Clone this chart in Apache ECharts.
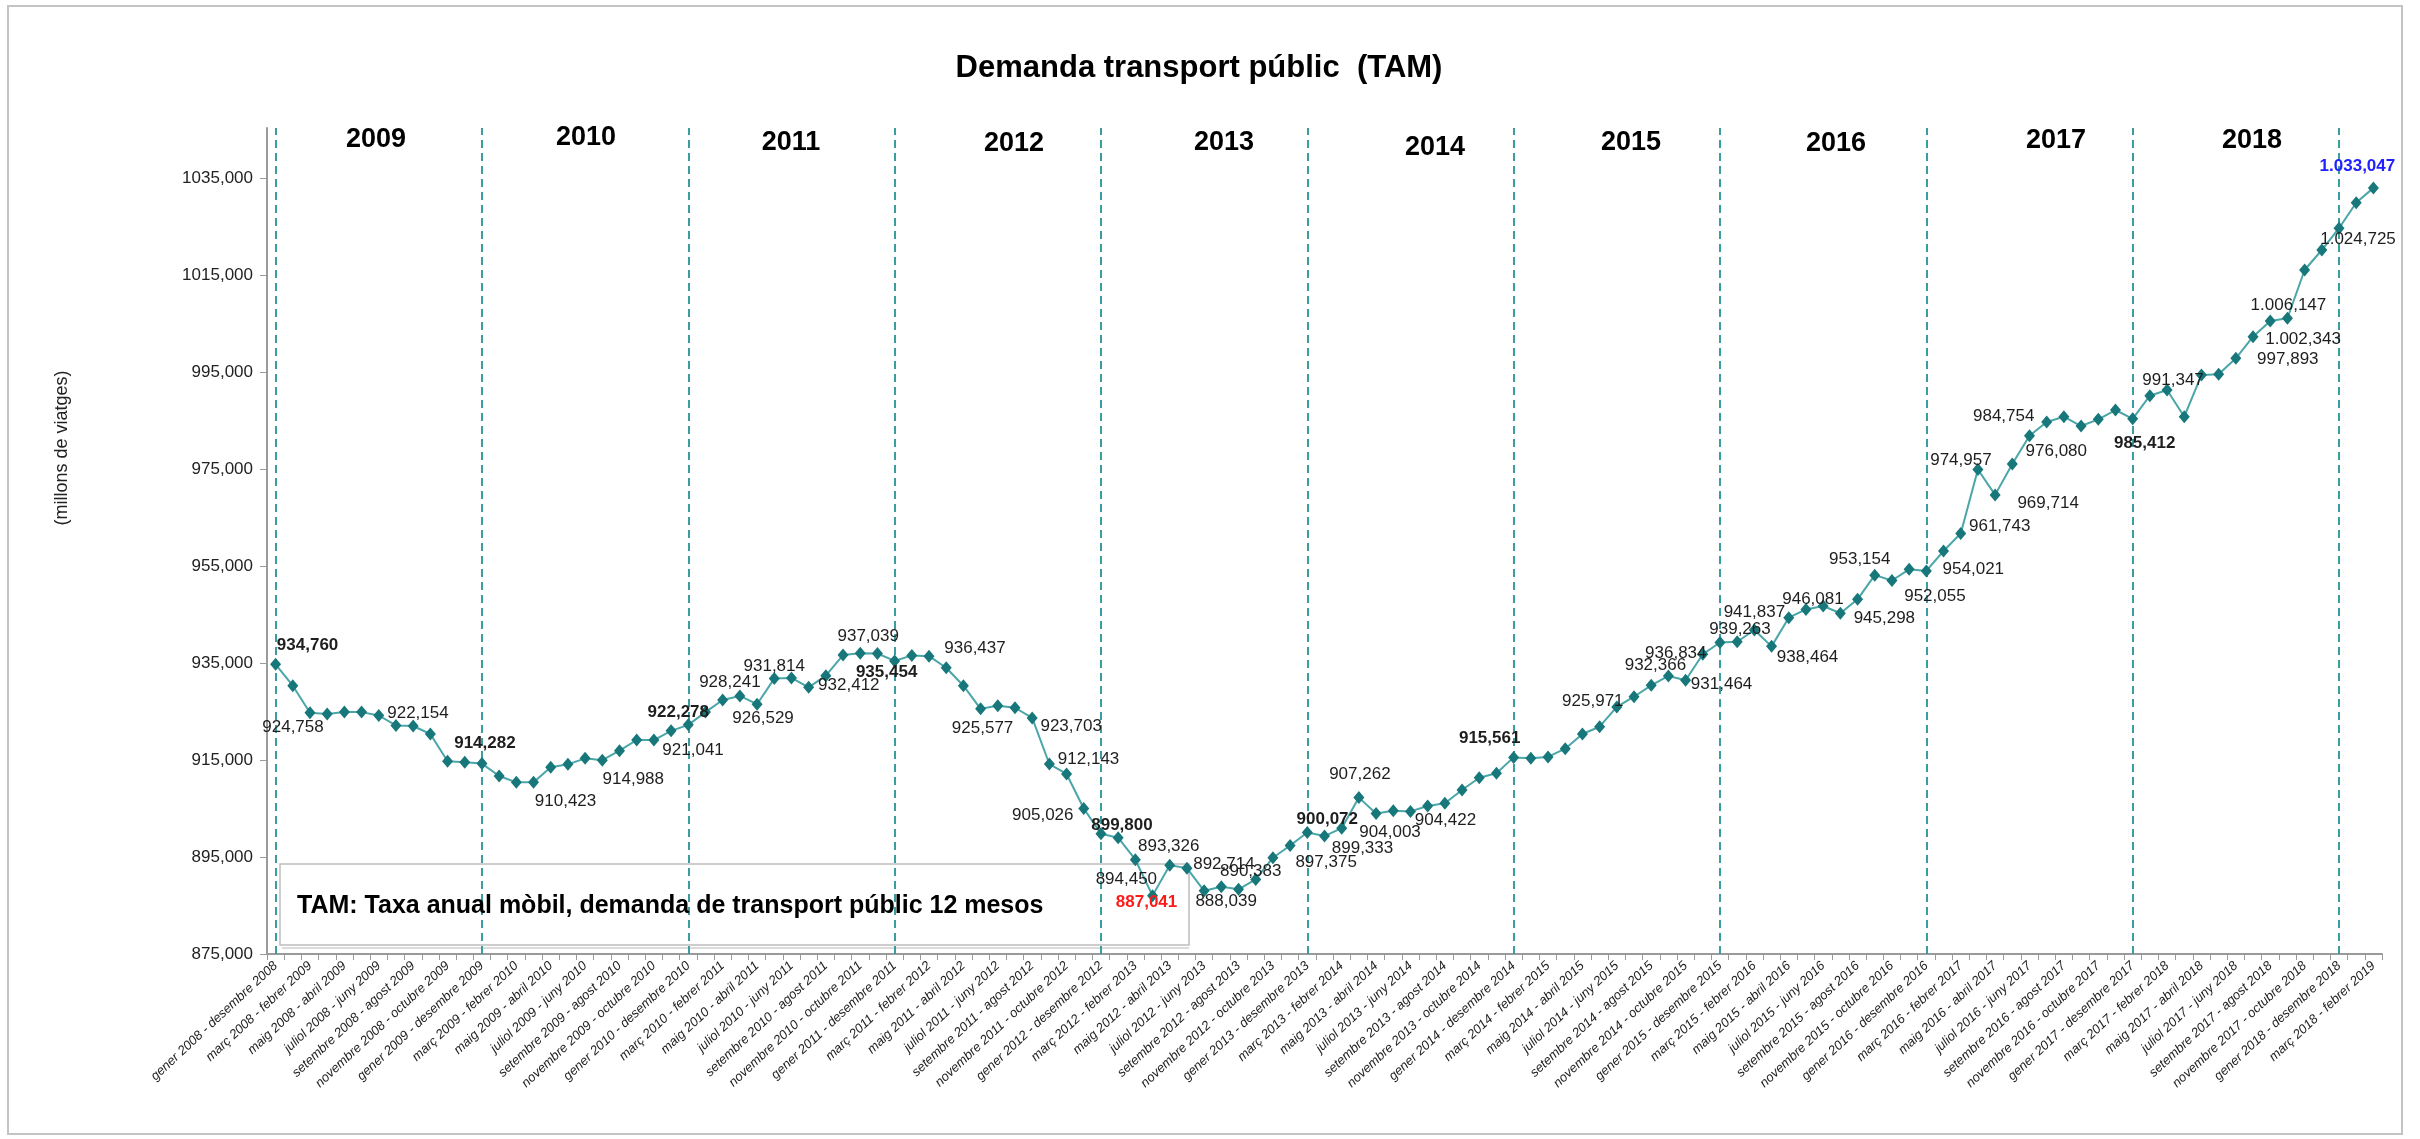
<!DOCTYPE html>
<html>
<head>
<meta charset="utf-8">
<title>Demanda transport públic (TAM)</title>
<script src="https://cdn.jsdelivr.net/npm/echarts@6/dist/echarts.min.js"></script>
<style>
  html, body { margin: 0; padding: 0; background: #fff; }
  #chart { width: 2420px; height: 1139px; }
</style>
</head>
<body>
<div id="chart"></div>
<script>
// mesos per construir les etiquetes "gener 2008 - desembre 2008", ...
var months = ['gener', 'febrer', 'març', 'abril', 'maig', 'juny', 'juliol', 'agost', 'setembre', 'octubre', 'novembre', 'desembre'];
var firstYear = 2008;

// TAM (viatges), de "gener 2008 - desembre 2008" fins "març 2018 - febrer 2019"
var tam = [
  934760, 930345, 924758, 924500, 924900, 924900, 924200, 922154, 922031, 920381, 914749, 914543,
  914282, 911716, 910417, 910423, 913511, 914130, 915368, 914988, 916936, 919143, 919143, 921041,
  922278, 924900, 927395, 928241, 926529, 931814, 931950, 930015, 932412, 936679, 937039, 937000,
  935454, 936600, 936437, 934059, 930345, 925577, 926219, 925800, 923703, 914192, 912143, 905026,
  899800, 899000, 894450, 887041, 893326, 892714, 888039, 888879, 888342, 890383, 894862, 897375,
  900072, 899333, 900950, 907262, 904003, 904558, 904422, 905527, 906084, 908828, 911366, 912273,
  915561, 915368, 915650, 917348, 920381, 921887, 925971, 928076, 930428, 932366, 931464, 936834,
  939263, 939422, 941837, 938464, 944374, 946081, 946787, 945298, 948170, 953154, 952055, 954359,
  954021, 958134, 961743, 974957, 969714, 976080, 981920, 984754, 985840, 983921, 985304, 987222,
  985412, 990172, 991347, 985840, 994443, 994587, 997893, 1002343, 1005583, 1006147, 1016104, 1020230,
  1024725, 1029988, 1033047
];

// punts de desembre (separadors d'any) i títols d'any
var yearEndIdx = [0, 12, 24, 36, 48, 60, 72, 84, 96, 108, 120];
var yearNames = ['2009', '2010', '2011', '2012', '2013', '2014', '2015', '2016', '2017', '2018'];

// eix Y
var yMin = 875000, yMax = 1045400, yStep = 20000;

// punts amb etiqueta de valor
var labelled = [0, 2, 7, 12, 15, 19, 23, 24, 27, 28, 29, 32, 34, 36, 38, 41, 44, 46, 47, 48, 50, 51, 52, 53, 54, 57,
  59, 60, 61, 63, 64, 66, 72, 78, 81, 82, 83, 84, 86, 87, 89, 91, 93, 94, 96, 98, 99, 100, 101, 103, 108, 110,
  114, 115, 117, 120, 122];
var boldIdx = [0, 12, 24, 36, 48, 60, 72, 108];
var minIdx = 51, lastIdx = 122;

// desplaçament de cada etiqueta respecte al punt (px)
var labelOffset = {
  0: [32, -19], 2: [-17, 15], 7: [22, -12], 12: [3, -20], 15: [32, 19], 19: [31, 19], 23: [22, 19],
  24: [-10, -13], 27: [-10, -14], 28: [6, 14], 29: [0, -12], 32: [23, 10], 34: [8, -17], 36: [-8, 11],
  38: [46, -8], 41: [2, 19], 44: [39, 8], 46: [22, -15], 47: [-41, 7], 48: [21, -8], 50: [-9, 20],
  51: [-6, 7], 52: [-1, -19], 53: [37, -4], 54: [22, 11], 57: [-5, -8], 59: [36, 17], 60: [20, -13],
  61: [38, 12], 63: [1, -23], 64: [14, 19], 66: [35, 9], 72: [-24, -19], 78: [-24, -6], 81: [-13, -11],
  82: [36, 4], 83: [-27, -1], 84: [20, -13], 86: [0, -18], 87: [36, 11], 89: [7, -10], 91: [44, 5],
  93: [-15, -16], 94: [43, 16], 96: [47, -2], 98: [39, -7], 99: [-17, -9], 100: [53, 8], 101: [44, -13],
  103: [-43, -6], 108: [12, 25], 110: [6, -10], 114: [52, 1], 115: [50, 3], 117: [1, -13], 120: [19, 11],
  122: [-16, -22]
};

var categories = tam.map(function (v, i) {
  var s = i % 12, e = (i + 11) % 12;
  var sy = firstYear + Math.floor(i / 12), ey = firstYear + Math.floor((i + 11) / 12);
  return months[s] + ' ' + sy + ' - ' + months[e] + ' ' + ey;
});

function pad3(n) {
  n = String(n);
  while (n.length < 3) n = '0' + n;
  return n;
}
// 934760 -> "934,760" ; 1033047 -> "1.033,047"
function fmtValue(v) {
  var u = v % 1000, k = Math.floor(v / 1000);
  if (k >= 1000) return Math.floor(k / 1000) + '.' + pad3(k % 1000) + ',' + pad3(u);
  return k + ',' + pad3(u);
}
// 1035000 -> "1035,000"
function fmtAxis(v) {
  if ((v - yMin) % yStep !== 0) return '';
  return Math.floor(v / 1000) + ',' + pad3(v % 1000);
}

var FONT = 'Liberation Sans, Arial, sans-serif';

var seriesData = tam.map(function (v, i) {
  if (labelled.indexOf(i) < 0) return v;
  var color = '#1e1e1e';
  if (i === minIdx) color = '#ff1a1a';
  if (i === lastIdx) color = '#2020ff';
  var bold = boldIdx.indexOf(i) >= 0 || i === minIdx || i === lastIdx;
  return {
    value: v,
    label: {
      show: true,
      position: 'inside',
      offset: labelOffset[i],
      color: color,
      fontWeight: bold ? 'bold' : 'normal'
    }
  };
});

// títols d'any (posicions de maquetació)
var yearPos = [[376, 140], [586, 138], [791, 143], [1014, 144], [1224, 143], [1435, 148], [1631, 143], [1836, 144], [2056, 141], [2252, 141]];
var yearTexts = yearNames.map(function (y, k) {
  return {
    type: 'text', x: yearPos[k][0], y: yearPos[k][1], z: 10,
    style: { text: y, fill: '#000', font: 'bold 27px ' + FONT, textAlign: 'center', textVerticalAlign: 'middle' }
  };
});

var myChart = echarts.init(document.getElementById('chart'), null, { renderer: 'canvas' });

var option = {
  animation: false,
  backgroundColor: '#fff',
  title: {
    text: 'Demanda transport públic  (TAM)',
    left: 1194,
    top: 48,
    textAlign: 'center',
    textStyle: { fontFamily: FONT, fontSize: 31, fontWeight: 'bold', color: '#000' }
  },
  grid: { left: 267, right: 38, top: 128, bottom: 185, containLabel: false, outerBoundsMode: 'none' },
  xAxis: {
    type: 'category',
    data: categories,
    boundaryGap: true,
    axisLine: { lineStyle: { color: '#9a9a9a', width: 2 } },
    axisTick: { show: true, interval: 0, length: 6, lineStyle: { color: '#9a9a9a' } },
    axisLabel: {
      interval: 1, rotate: 43, margin: 10,
      fontFamily: FONT, fontSize: 13, fontStyle: 'italic', color: '#222'
    },
    splitLine: { show: false }
  },
  yAxis: {
    type: 'value',
    min: yMin,
    max: yMax,
    interval: yStep,
    axisLine: { show: true, lineStyle: { color: '#9a9a9a', width: 2 } },
    axisTick: { show: true, length: 7, lineStyle: { color: '#9a9a9a' } },
    splitLine: { show: false },
    axisLabel: {
      formatter: fmtAxis, showMaxLabel: false, margin: 14,
      fontFamily: FONT, fontSize: 17, color: '#222'
    }
  },
  series: [{
    name: 'TAM',
    type: 'line',
    data: seriesData,
    symbol: 'diamond',
    symbolSize: [11, 13],
    showAllSymbol: true,
    itemStyle: { color: '#18777a' },
    lineStyle: { color: '#4aa6a8', width: 2 },
    label: {
      show: false,
      fontFamily: FONT,
      fontSize: 17,
      formatter: function (p) { return fmtValue(p.value); }
    },
    z: 5,
    markLine: {
      silent: true,
      symbol: ['none', 'none'],
      label: { show: false },
      lineStyle: { color: '#3a9ea0', width: 2, type: [8, 5] },
      data: yearEndIdx.map(function (i) { return { xAxis: categories[i] }; })
    }
  }],
  graphic: [
    {
      type: 'rect', z: 0,
      shape: { x: 8, y: 6, width: 2394, height: 1128 },
      style: { fill: null, stroke: '#c4c4c4', lineWidth: 2 }
    },
    {
      type: 'text', x: 62, y: 448, rotation: Math.PI / 2,
      style: { text: '(millons de viatges)', fill: '#222', font: '18px ' + FONT, textAlign: 'center', textVerticalAlign: 'middle' }
    },
    {
      type: 'rect', z: 1,
      shape: { x: 280, y: 864, width: 909, height: 81 },
      style: { fill: null, stroke: '#bdbdbd', lineWidth: 1.5 }
    },
    {
      type: 'line', z: 1,
      shape: { x1: 282, y1: 948, x2: 1189, y2: 948 },
      style: { stroke: '#dcdcdc', lineWidth: 2 }
    },
    {
      type: 'text', x: 297, y: 906, z: 10,
      style: { text: 'TAM: Taxa anual mòbil, demanda de transport públic 12 mesos', fill: '#000', font: 'bold 25px ' + FONT, textAlign: 'left', textVerticalAlign: 'middle' }
    }
  ].concat(yearTexts)
};

myChart.setOption(option);
</script>
</body>
</html>
